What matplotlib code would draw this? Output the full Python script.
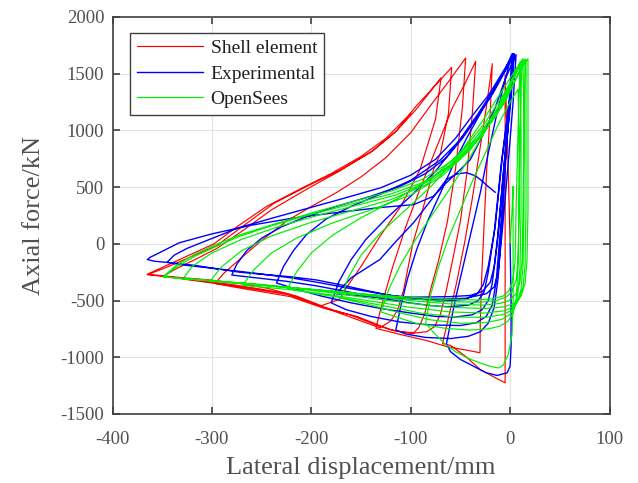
import numpy as np
import matplotlib
matplotlib.use("Agg")
import matplotlib.pyplot as plt

# Axial force vs lateral displacement hysteresis (displacement mm, force kN)
shell_pts = [
    (0, 0), (-2, 700), (-5, 1493),
    (-5, 600), (-5, -300), (-5, -900), (-5, -1225),
    (-15, -1180), (-30, -1108), (-45, -990), (-60, -895), (-68, -880),
    (-62, -650), (-54, -350), (-46, 0), (-38, 400), (-31, 800), (-24, 1200), (-17.9, 1589),
    (-20, 1150), (-23.5, 655), (-26, 200), (-28.6, -300), (-30, -700), (-30.3, -960),
    (-45, -935), (-64, -905), (-85, -850), (-110, -800), (-135, -745),
    (-128, -500), (-118, -200), (-105, 150), (-90, 500), (-74, 850), (-58, 1200), (-45, 1420), (-34.6, 1609),
    (-38, 1150), (-43, 655), (-50, 200), (-58, -150), (-64, -403), (-70, -620), (-76, -730), (-84, -775),
    (-100, -790), (-121, -755), (-154, -640), (-188, -566), (-221, -465), (-250, -422), (-275, -385), (-297, -350),
    (-288, -260), (-270, -120), (-250, 30), (-225, 200), (-200, 330), (-175, 450), (-150, 590),
    (-125, 760), (-100, 980), (-80, 1220), (-62, 1430), (-44.7, 1639),
    (-48, 1200), (-55, 655), (-63, 200), (-72, -150), (-80, -403), (-86, -620), (-92, -740), (-97, -784),
    (-115, -770), (-135, -715), (-160, -630), (-190, -550), (-221, -450), (-250, -410), (-275, -375),
    (-300, -345), (-325, -315), (-349, -285),
    (-335, -215), (-315, -130), (-295, -40), (-270, 110), (-240, 300), (-205, 480), (-172, 640),
    (-140, 810), (-115, 990), (-95, 1180), (-77, 1380), (-58.8, 1556),
    (-62, 1150), (-70, 800), (-77, 655), (-88, 300), (-98, 0), (-107, -403), (-113, -580), (-120, -680), (-131, -740),
    (-150, -680), (-175, -600), (-200, -520), (-225, -440), (-250, -400), (-275, -365), (-300, -335),
    (-330, -305), (-365, -272),
    (-347, -212), (-320, -110), (-295, -15), (-272, 135), (-238, 355), (-205, 505), (-171, 650),
    (-138, 820), (-115, 990), (-94, 1220), (-80, 1350), (-69.5, 1463),
    (-75, 1100), (-90.6, 655), (-110, 330), (-130.9, 67), (-150, -200), (-165, -390), (-172, -491), (-190, -545),
    (-215, -460), (-245, -390), (-272, -350), (-300, -320), (-330, -298), (-365, -268),
    (-348, -200), (-322, -95), (-298, 0), (-275, 150), (-245, 330), (-212, 480), (-180, 620),
    (-150, 770), (-125, 930), (-100, 1150),
]

test_pts = [
    (0, 0), (1, -500), (1, -900), (0, -1080), (-3, -1137), (-13, -1160), (-24, -1137),
    (-37, -1078), (-50, -1019), (-60, -950), (-64, -880),
    (-60, -700), (-54, -450), (-46, -150), (-38, 150), (-30, 450), (-22, 800), (-14, 1120),
    (-7, 1380), (-1, 1580), (3, 1675),
    (0, 1300), (-4, 800), (-8, 200), (-12, -300), (-16, -560), (-22, -700), (-30, -775),
    (-42, -815), (-60, -835), (-85, -825), (-105, -795), (-115, -760),
    (-110, -550), (-103, -300), (-94, -50), (-83, 200), (-70, 450), (-56, 720), (-42, 960),
    (-28, 1180), (-14, 1390), (-3, 1560), (4, 1665),
    (0, 1250), (-5, 700), (-10, 100), (-14, -330), (-18, -540), (-24, -640), (-34, -695),
    (-50, -720), (-80, -715), (-110, -690), (-140, -640), (-165, -580), (-180, -520),
    (-172, -330), (-160, -140), (-145, 40), (-125, 220), (-100, 420), (-75, 640), (-52, 900),
    (-32, 1150), (-15, 1380), (-3, 1560), (3, 1670),
    (-1, 1200), (-7, 600), (-13, 0), (-18, -350), (-22, -500), (-28, -580), (-38, -625),
    (-55, -645), (-75, -640), (-100, -610), (-130, -570), (-160, -520), (-190, -460), (-215, -400), (-235, -345),
    (-228, -200), (-218, -60), (-205, 80), (-185, 220), (-160, 330), (-130, 440), (-100, 560),
    (-70, 740), (-50, 920), (-33, 1120), (-18, 1330), (-5, 1540), (2, 1675),
    (-1, 1250), (-9, 700), (-16, 100), (-22, -250), (-26, -420), (-32, -500), (-42, -540),
    (-60, -555), (-80, -545), (-105, -515), (-135, -470), (-165, -420), (-195, -370), (-225, -330),
    (-255, -300), (-280, -275),
    (-275, -180), (-265, -60), (-250, 50), (-230, 150), (-205, 240), (-175, 330), (-140, 420),
    (-110, 510), (-85, 620), (-64, 760), (-48, 930), (-32, 1130), (-17, 1330), (-4, 1540), (3, 1672),
    (0, 1300), (-8, 750), (-15, 150), (-22, -200), (-27, -360), (-33, -440), (-45, -490),
    (-70, -505), (-100, -480), (-130, -440), (-160, -395), (-190, -345), (-220, -300),
    (-260, -255), (-300, -215), (-330, -185), (-345, -162),
    (-338, -100), (-325, -40), (-305, 30), (-272, 145), (-240, 225), (-205, 310), (-170, 395),
    (-130, 495), (-100, 605), (-75, 745), (-55, 930), (-38, 1130), (-21, 1320), (-5, 1550), (4, 1678),
    (1, 1280), (-6, 700), (-12, 100), (-16, -200), (-20, -340), (-28, -420), (-40, -455),
    (-60, -465), (-80, -468), (-100, -470), (-121, -455), (-145, -410), (-171, -360), (-195, -318),
    (-221, -290), (-250, -268), (-272, -250), (-295, -220), (-317, -190), (-340, -168),
    (-358, -153), (-365, -138),
    (-362, -118), (-353, -79), (-333, 9), (-300, 88), (-260, 165), (-220, 225), (-180, 270),
    (-131, 320), (-97, 346), (-77, 420), (-64, 540), (-50, 655), (-40, 743), (-28, 950),
    (-15, 1200), (-5, 1450), (6, 1669),
    (3, 1250), (-2, 700), (-8, 100), (-12, -250), (-16, -380), (-24, -440), (-45, -480),
    (-80, -490), (-120, -480), (-150, -460), (-175, -440),
    (-160, -300), (-131, -138), (-115, 20), (-97, 188), (-80, 380), (-64, 567), (-54, 615),
    (-44, 628), (-35, 600), (-30, 567), (-22, 505), (-15, 455),
]

opensees_pts = [
    (0, 0), (2, 300), (3, 509), (3, 0), (3, -500), (2, -800), (-2, -980), (-7, -1070),
    (-11.8, -1094), (-20, -1080), (-30, -1050), (-42, -1010), (-55, -950), (-66, -880),
    (-76, -790), (-85, -700),
    (-80, -450), (-72, -200), (-62, 50), (-50, 300), (-38, 550), (-25, 800), (-12, 1050),
    (0, 1250), (8, 1362),
    (9, 900), (9, 300), (8, -200), (6, -500), (3, -610), (-2, -680), (-10, -725), (-22, -750),
    (-40, -760), (-65, -745), (-95, -700), (-130, -600),
    (-122, -400), (-110, -180), (-95, 40), (-78, 260), (-58, 520), (-38, 800), (-18, 1100),
    (0, 1400), (10, 1597),
    (11, 1000), (11, 300), (10, -200), (8, -430), (5, -550), (0, -620), (-8, -665), (-25, -695),
    (-50, -700), (-80, -670), (-110, -610), (-140, -540), (-170, -480),
    (-163, -300), (-150, -100), (-130, 100), (-105, 300), (-78, 520), (-52, 780), (-28, 1080),
    (-8, 1350), (5, 1530), (13, 1632),
    (14, 1000), (14, 300), (13, -200), (11, -400), (7, -520), (1, -590), (-8, -625), (-25, -648),
    (-55, -645), (-90, -610), (-125, -550), (-160, -490), (-195, -440), (-224, -395),
    (-215, -250), (-200, -80), (-178, 80), (-150, 230), (-115, 390), (-80, 570), (-50, 800),
    (-25, 1070), (-5, 1340), (8, 1540), (16, 1625),
    (16, 1000), (16, 300), (15, -200), (13, -380), (9, -490), (3, -555), (-6, -590), (-25, -610),
    (-60, -600), (-100, -560), (-140, -505), (-180, -450), (-220, -405), (-269, -365),
    (-258, -230), (-240, -80), (-215, 50), (-180, 180), (-140, 300), (-100, 430), (-68, 600),
    (-40, 830), (-15, 1120), (3, 1400), (12, 1560), (18, 1632),
    (18, 1000), (18, 300), (17, -150), (15, -350), (11, -460), (4, -525), (-6, -555), (-25, -570),
    (-60, -560), (-100, -525), (-140, -480), (-180, -430), (-220, -390), (-260, -355), (-302, -330),
    (-290, -200), (-270, -60), (-240, 70), (-200, 190), (-160, 290), (-120, 390), (-85, 520),
    (-55, 710), (-28, 960), (-5, 1250), (8, 1500), (15, 1630),
    (14, 1000), (13, 300), (12, -150), (10, -330), (6, -440), (-1, -500), (-10, -525), (-28, -540),
    (-60, -530), (-100, -500), (-140, -460), (-180, -420), (-220, -385), (-260, -350),
    (-300, -325), (-329, -308),
    (-320, -200), (-300, -80), (-270, 40), (-230, 160), (-190, 260), (-150, 350), (-115, 430),
    (-85, 540), (-58, 710), (-32, 940), (-10, 1230), (4, 1470), (12, 1620),
    (10, 1000), (9, 300), (8, -150), (6, -320), (2, -420), (-4, -470), (-14, -500), (-30, -515),
    (-60, -510), (-100, -485), (-140, -450), (-180, -415), (-220, -385), (-260, -355),
    (-300, -325), (-349, -291),
    (-335, -200), (-317, -109), (-295, -20), (-272, 67), (-240, 160), (-200, 260), (-160, 350),
    (-120, 440), (-88, 540), (-60, 690), (-35, 890), (-14, 1130), (0, 1380), (10, 1600),
    (8, 1000), (6, 300), (5, -150), (3, -310), (-1, -410), (-7, -460), (-18, -485), (-35, -495),
    (-70, -485), (-110, -465), (-150, -440), (-190, -410), (-230, -380), (-270, -350),
    (-310, -320), (-349, -291),
    (-336, -190), (-318, -95), (-296, -5), (-270, 85), (-235, 180), (-195, 285), (-155, 380),
    (-118, 470), (-88, 570), (-62, 710), (-38, 900), (-16, 1140), (-2, 1380), (8, 1560),
]

series = [
    ("Shell element", shell_pts, "#ff0000", 0.85),
    ("Experimental", test_pts, "#0000ff", 1.0),
    ("OpenSees", opensees_pts, "#00ee00", 0.85),
]

plt.rcParams["font.family"] = ["Liberation Serif", "DejaVu Serif"]
plt.rcParams["axes.unicode_minus"] = False
text_color = "#505050"

fig = plt.figure(figsize=(6.38, 4.83), dpi=100)
ax = fig.add_axes([112.5 / 638, 1 - 414 / 483, 497 / 638, 397 / 483])

for label, pts, color, lw in series:
    arr = np.array(pts, dtype=float)
    ax.plot(arr[:, 0], arr[:, 1], color=color, lw=lw, label=label)

ax.set_xlim(-400, 100)
ax.set_ylim(-1500, 2000)
ax.set_xticks(np.arange(-400, 101, 100))
ax.set_yticks(np.arange(-1500, 2001, 500))
ax.grid(True, color="#e3e3e3", lw=0.8)
ax.set_axisbelow(True)
ax.tick_params(direction="in", length=5, width=1.2, top=True, right=True,
               labelsize=13.5, colors="#404040", labelcolor=text_color)
ax.tick_params(axis="x", pad=12)
ax.tick_params(axis="y", pad=6)
for sp in ax.spines.values():
    sp.set_color("#404040")
    sp.set_linewidth(1.2)

ax.set_xlabel("Lateral displacement/mm", fontsize=19, color=text_color, labelpad=7)
ax.set_ylabel("Axial force/kN", fontsize=19, color=text_color, labelpad=11)

leg = ax.legend(loc="upper left", bbox_to_anchor=(0.035, 0.96), fontsize=14,
                handlelength=3.4, handletextpad=0.4, labelspacing=0.4,
                borderpad=0.35, borderaxespad=0, fancybox=False, framealpha=1)
leg.get_frame().set_edgecolor("#404040")
leg.get_frame().set_linewidth(1.0)
for t in leg.get_texts():
    t.set_color("#202020")

fig.savefig("out.png", dpi=100)
